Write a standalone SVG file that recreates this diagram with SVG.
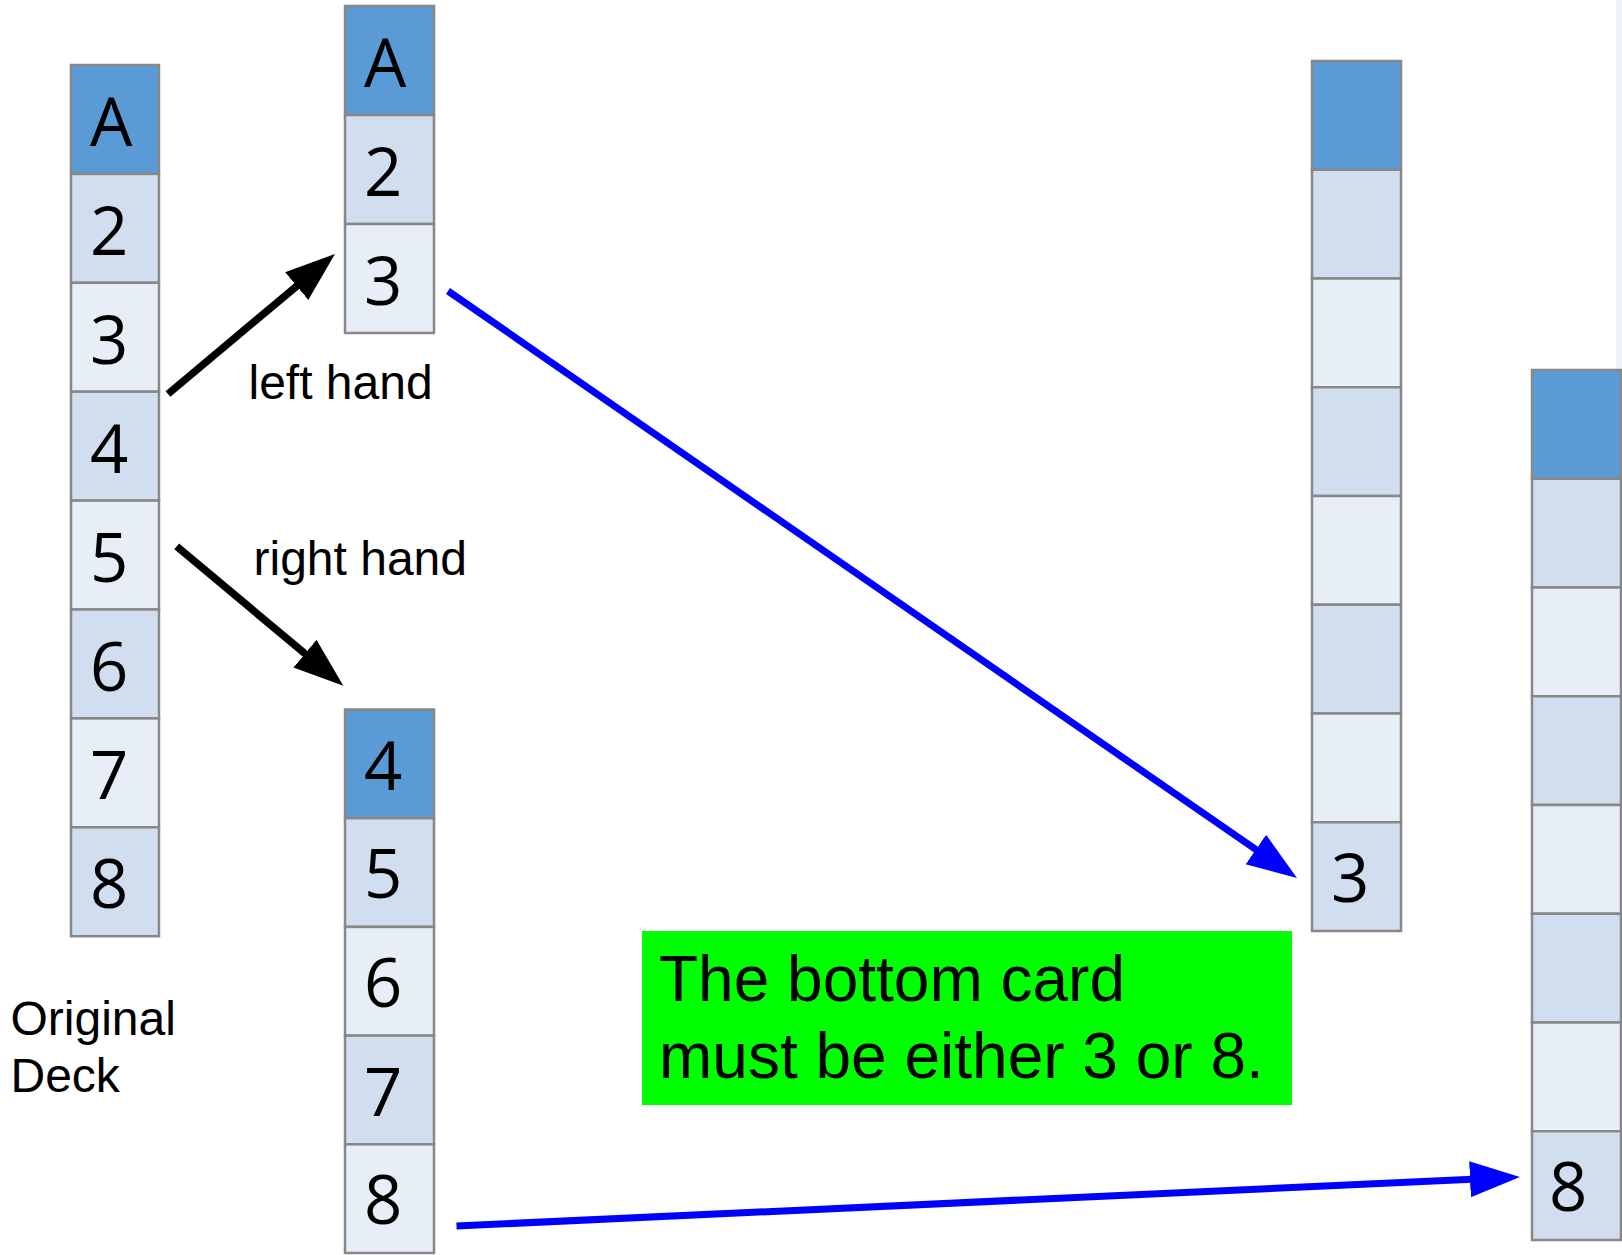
<svg xmlns="http://www.w3.org/2000/svg" width="1622" height="1255" viewBox="0 0 1622 1255">
  <style>
    .cell { stroke: #888888; stroke-width: 2.5; }
    .top { fill: #5b9bd5; }
    .mid { fill: #d0deef; }
    .lite { fill: #e8eef7; }
    .card { font-family: "Open Sans", "Noto Sans", sans-serif; font-size: 67px; fill: #000000; }
    .label { font-family: "Liberation Sans", Arial, sans-serif; font-size: 48px; fill: #000000; }
    .note { font-family: "Liberation Sans", Arial, sans-serif; font-size: 64px; fill: #000000; }
    .blackline { stroke: #000000; stroke-width: 7.5; fill: none; }
    .blueline { stroke: #0000ff; stroke-width: 7; fill: none; }
  </style>
  <defs>
    <marker id="headBlack" markerUnits="userSpaceOnUse" markerWidth="52" markerHeight="38" refX="2" refY="18" orient="auto">
      <path d="M0,0 L50,18 L0,36 Z" fill="#000000"/>
    </marker>
    <marker id="headBlue" markerUnits="userSpaceOnUse" markerWidth="52" markerHeight="38" refX="2" refY="18" orient="auto">
      <path d="M0,0 L50,18 L0,36 Z" fill="#0000ff"/>
    </marker>
  </defs>

  <rect width="1622" height="1255" fill="#ffffff"/>
  <!-- thin pale strip along the right edge -->
  <rect x="1616" y="0" width="6" height="370" fill="#edf2fa"/>

  <!-- original deck: A..8 -->
  <g id="deck-original" transform="translate(71,65)">
    <rect class="cell top" x="0" y="0" width="88" height="108.9"/>
    <rect class="cell mid" x="0" y="108.9" width="88" height="108.9"/>
    <rect class="cell lite" x="0" y="217.8" width="88" height="108.9"/>
    <rect class="cell mid" x="0" y="326.7" width="88" height="108.9"/>
    <rect class="cell lite" x="0" y="435.6" width="88" height="108.9"/>
    <rect class="cell mid" x="0" y="544.5" width="88" height="108.9"/>
    <rect class="cell lite" x="0" y="653.4" width="88" height="108.9"/>
    <rect class="cell mid" x="0" y="762.3" width="88" height="108.9"/>
    <text class="card" x="19" y="81">A</text>
    <text class="card" x="19" y="189.9">2</text>
    <text class="card" x="19" y="298.8">3</text>
    <text class="card" x="19" y="407.7">4</text>
    <text class="card" x="19" y="516.6">5</text>
    <text class="card" x="19" y="625.5">6</text>
    <text class="card" x="19" y="734.4">7</text>
    <text class="card" x="19" y="843.3">8</text>
  </g>
  <g id="label-original">
    <text class="label" x="10.5" y="1035">Original</text>
    <text class="label" x="10.5" y="1091.5">Deck</text>
  </g>

  <!-- left hand packet -->
  <g id="deck-left" transform="translate(345,6)">
    <rect class="cell top" x="0" y="0" width="89" height="109"/>
    <rect class="cell mid" x="0" y="109" width="89" height="109"/>
    <rect class="cell lite" x="0" y="218" width="89" height="109"/>
    <text class="card" x="19" y="81">A</text>
    <text class="card" x="19" y="190">2</text>
    <text class="card" x="19" y="299">3</text>
  </g>
  <g id="label-left">
    <text class="label" x="248.5" y="398.5">left hand</text>
  </g>

  <!-- right hand packet -->
  <g id="deck-right" transform="translate(345,709.5)">
    <rect class="cell top" x="0" y="0" width="89" height="108.7"/>
    <rect class="cell mid" x="0" y="108.7" width="89" height="108.7"/>
    <rect class="cell lite" x="0" y="217.4" width="89" height="108.7"/>
    <rect class="cell mid" x="0" y="326.1" width="89" height="108.7"/>
    <rect class="cell lite" x="0" y="434.8" width="89" height="108.7"/>
    <text class="card" x="19" y="80">4</text>
    <text class="card" x="19" y="188.7">5</text>
    <text class="card" x="19" y="297.4">6</text>
    <text class="card" x="19" y="406.1">7</text>
    <text class="card" x="19" y="514.8">8</text>
  </g>
  <g id="label-right">
    <text class="label" x="253.5" y="574.5">right hand</text>
  </g>

  <!-- shuffled deck ending in 3 -->
  <g id="deck-result-3" transform="translate(1312,61)">
    <rect class="cell top" x="0" y="0" width="89" height="108.75"/>
    <rect class="cell mid" x="0" y="108.75" width="89" height="108.75"/>
    <rect class="cell lite" x="0" y="217.5" width="89" height="108.75"/>
    <rect class="cell mid" x="0" y="326.25" width="89" height="108.75"/>
    <rect class="cell lite" x="0" y="435" width="89" height="108.75"/>
    <rect class="cell mid" x="0" y="543.75" width="89" height="108.75"/>
    <rect class="cell lite" x="0" y="652.5" width="89" height="108.75"/>
    <rect class="cell mid" x="0" y="761.25" width="89" height="108.75"/>
    <text class="card" x="19" y="841">3</text>
  </g>

  <!-- shuffled deck ending in 8 -->
  <g id="deck-result-8" transform="translate(1532,370)">
    <rect class="cell top" x="0" y="0" width="89" height="108.75"/>
    <rect class="cell mid" x="0" y="108.75" width="89" height="108.75"/>
    <rect class="cell lite" x="0" y="217.5" width="89" height="108.75"/>
    <rect class="cell mid" x="0" y="326.25" width="89" height="108.75"/>
    <rect class="cell lite" x="0" y="435" width="89" height="108.75"/>
    <rect class="cell mid" x="0" y="543.75" width="89" height="108.75"/>
    <rect class="cell lite" x="0" y="652.5" width="89" height="108.75"/>
    <rect class="cell mid" x="0" y="761.25" width="89" height="108.75"/>
    <text class="card" x="17" y="841">8</text>
  </g>

  <!-- conclusion box -->
  <g id="note">
    <rect x="642" y="931" width="650" height="174" fill="#00ff00"/>
    <text class="note" x="659" y="1001">The bottom card</text>
    <text class="note" x="659" y="1078">must be either 3 or 8.</text>
  </g>

  <!-- connectors -->
  <g id="connectors">
    <line class="blackline" x1="168" y1="394" x2="298.2" y2="284.8" marker-end="url(#headBlack)"/>
    <line class="blackline" x1="176.7" y1="546.4" x2="306.5" y2="654.9" marker-end="url(#headBlack)"/>
    <line class="blueline" x1="448" y1="291" x2="1257.5" y2="850.7" marker-end="url(#headBlue)"/>
    <line class="blueline" x1="456.5" y1="1226" x2="1472" y2="1179.2" marker-end="url(#headBlue)"/>
  </g>
</svg>
